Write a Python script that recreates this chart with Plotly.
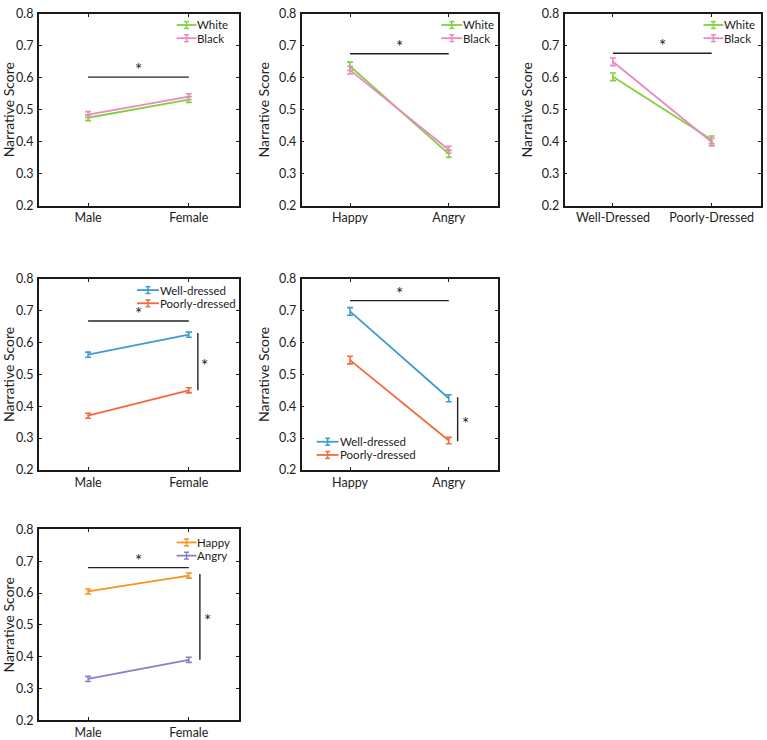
import plotly.graph_objects as go

# ---------------- data ----------------
gender = ["Male", "Female"]
emotion = ["Happy", "Angry"]
dress = ["Well-Dressed", "Poorly-Dressed"]

# Panel 1: race x gender
p1_white = [0.475, 0.532]
p1_white_err = [0.009, 0.009]
p1_black = [0.485, 0.541]
p1_black_err = [0.009, 0.009]

# Panel 2: race x emotion
p2_white = [0.636, 0.362]
p2_white_err = [0.013, 0.011]
p2_black = [0.624, 0.375]
p2_black_err = [0.012, 0.011]

# Panel 3: race x dress
p3_white = [0.603, 0.406]
p3_white_err = [0.012, 0.012]
p3_black = [0.650, 0.399]
p3_black_err = [0.012, 0.012]

# Panel 4: dress x gender
p4_well = [0.562, 0.625]
p4_well_err = [0.008, 0.008]
p4_poor = [0.370, 0.450]
p4_poor_err = [0.008, 0.008]

# Panel 5: dress x emotion
p5_well = [0.698, 0.425]
p5_well_err = [0.012, 0.011]
p5_poor = [0.545, 0.292]
p5_poor_err = [0.012, 0.010]

# Panel 6: emotion x gender
p6_happy = [0.605, 0.655]
p6_happy_err = [0.008, 0.008]
p6_angry = [0.330, 0.390]
p6_angry_err = [0.008, 0.008]

# significance bars: horizontal heights, vertical spans (low, high)
sig_h = [0.602, 0.675, 0.677, 0.668, 0.732, 0.680]
sig_v = [None, None, None, (0.450, 0.630), (0.290, 0.428), (0.390, 0.660)]

# ---------------- styles ----------------
GREEN = "#82cf3f"
PINK = "#ea88c4"
BLUE = "#3f9bd2"
RED = "#f26a3a"
ORANGE = "#f7931e"
PURPLE = "#8a7ec8"
FONT = "Lato"

W, H = 767, 740
cols = [(33, 235), (298, 496), (563, 761)]
rows = [(6, 202), (277, 472), (533, 728)]
LEG_GAP = 13.5  # px between legend rows

panels = [
    dict(cats=gender, s=[("White", p1_white, p1_white_err, GREEN), ("Black", p1_black, p1_black_err, PINK)],
         pos=(0, 0), leg=(0.688, 0.787, 0.942)),
    dict(cats=emotion, s=[("White", p2_white, p2_white_err, GREEN), ("Black", p2_black, p2_black_err, PINK)],
         pos=(0, 1), leg=(0.711, 0.817, 0.942)),
    dict(cats=dress, s=[("White", p3_white, p3_white_err, GREEN), ("Black", p3_black, p3_black_err, PINK)],
         pos=(0, 2), leg=(0.707, 0.808, 0.942)),
    dict(cats=gender, s=[("Well-dressed", p4_well, p4_well_err, BLUE), ("Poorly-dressed", p4_poor, p4_poor_err, RED)],
         pos=(1, 0), leg=(0.490, 0.600, 0.942)),
    dict(cats=emotion, s=[("Well-dressed", p5_well, p5_well_err, BLUE), ("Poorly-dressed", p5_poor, p5_poor_err, RED)],
         pos=(1, 1), leg=(0.076, 0.188, 0.147)),
    dict(cats=gender, s=[("Happy", p6_happy, p6_happy_err, ORANGE), ("Angry", p6_angry, p6_angry_err, PURPLE)],
         pos=(2, 0), leg=(0.688, 0.787, 0.932)),
]

vx = [None, None, None, (1.09, 1.16), (1.09, 1.17), (1.11, 1.19)]

fig = go.Figure()
layout = dict(
    width=W, height=H, margin=dict(l=0, r=0, t=0, b=0),
    paper_bgcolor="white", plot_bgcolor="white", showlegend=False,
    font=dict(family=FONT, size=12, color="#222"),
)
shapes, annos = [], []

for i, p in enumerate(panels):
    n = "" if i == 0 else str(i + 1)
    xa, ya = "x" + n, "y" + n
    r, c = p["pos"]
    x0, x1 = cols[c]
    y0, y1 = rows[r]
    layout["xaxis" + n] = dict(
        domain=[x0 / W, x1 / W], anchor=ya, type="category", range=[-0.49, 1.5],
        showline=True, linecolor="#1a1a1a", linewidth=1.6, mirror="allticks",
        ticks="inside", ticklen=3, tickcolor="#1a1a1a", showgrid=False, zeroline=False,
        tickfont=dict(size=12.5, color="#222"), fixedrange=True,
    )
    layout["yaxis" + n] = dict(
        domain=[1 - y1 / H, 1 - y0 / H], anchor=xa, range=[0.2, 0.8], dtick=0.1, tickformat=".1f",
        showline=True, linecolor="#1a1a1a", linewidth=1.6, mirror="allticks",
        ticks="inside", ticklen=3, tickcolor="#1a1a1a", showgrid=False, zeroline=False,
        tickfont=dict(size=12.5, color="#222"), ticklabelstandoff=1, fixedrange=True,
        title=dict(text="Narrative Score", font=dict(size=14, color="#222"), standoff=6),
    )
    for name, vals, err, col in p["s"]:
        fig.add_trace(go.Scatter(
            x=p["cats"], y=vals, name=name, xaxis=xa, yaxis=ya, mode="lines",
            line=dict(color=col, width=1.8),
            error_y=dict(type="data", array=err, color=col, thickness=1.6, width=3),
        ))
    # significance horizontal bar
    shapes.append(dict(type="line", xref=xa, yref=ya, x0=0, x1=1, y0=sig_h[i], y1=sig_h[i],
                       line=dict(color="#222", width=1.4)))
    annos.append(dict(xref=xa, yref=ya, x=0.5, y=sig_h[i], text="*", showarrow=False,
                      yanchor="bottom", yshift=-5, font=dict(size=17, color="#222")))
    if sig_v[i] is not None:
        lo, hi = sig_v[i]
        lx, sx = vx[i]
        shapes.append(dict(type="line", xref=xa, yref=ya, x0=lx, x1=lx, y0=lo, y1=hi,
                           line=dict(color="#222", width=1.4)))
        annos.append(dict(xref=xa, yref=ya, x=sx, y=(lo + hi) / 2, text="*", showarrow=False,
                          yanchor="middle", yshift=-4, font=dict(size=17, color="#222")))
    # legend (drawn in axis-domain coordinates)
    lx0, lx1, ytop = p["leg"]
    ph = y1 - y0
    for k, (name, vals, err, col) in enumerate(p["s"]):
        ly = ytop - k * LEG_GAP / ph
        xd, yd = xa + " domain", ya + " domain"
        shapes.append(dict(type="line", xref=xd, yref=yd, x0=lx0, x1=lx1, y0=ly, y1=ly,
                           line=dict(color=col, width=1.8)))
        xm = (lx0 + lx1) / 2
        dy = 3.5 / ph
        dx = 2.5 / (x1 - x0)
        shapes.append(dict(type="line", xref=xd, yref=yd, x0=xm, x1=xm, y0=ly - dy, y1=ly + dy,
                           line=dict(color=col, width=1.5)))
        for yy in (ly - dy, ly + dy):
            shapes.append(dict(type="line", xref=xd, yref=yd, x0=xm - dx, x1=xm + dx, y0=yy, y1=yy,
                               line=dict(color=col, width=1.5)))
        annos.append(dict(xref=xd, yref=yd, x=lx1, y=ly, text=name, showarrow=False, borderpad=0,
                          xanchor="left", yanchor="middle", font=dict(size=11.5, color="#222")))

layout["shapes"] = shapes
layout["annotations"] = annos
fig.update_layout(**layout)
fig.write_html("out.html", config={"displayModeBar": False},
               post_script="document.body.style.margin='0px';")
